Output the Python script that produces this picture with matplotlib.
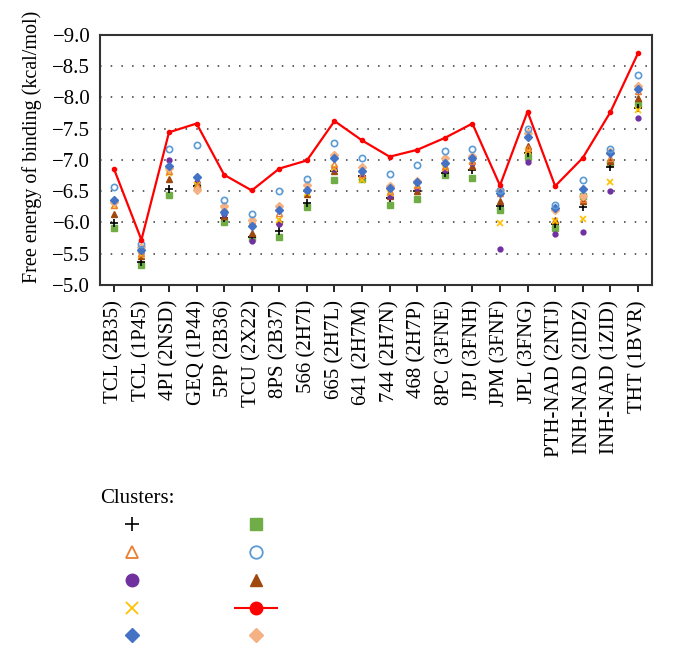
import matplotlib
matplotlib.use('Agg')
import matplotlib.pyplot as plt
from matplotlib.lines import Line2D

plt.rcParams['font.family'] = ['Liberation Serif', 'DejaVu Serif']

# Categories (ligands / PDB codes)
categorias = ['TCL (2B35)', 'TCL (1P45)', '4PI (2NSD)', 'GEQ (1P44)', '5PP (2B36)',
              'TCU (2X22)', '8PS (2B37)', '566 (2H7I)', '665 (2H7L)', '641 (2H7M)',
              '744 (2H7N)', '468 (2H7P)', '8PC (3FNE)', 'JPJ (3FNH)', 'JPM (3FNF)',
              'JPL (3FNG)', 'PTH-NAD (2NTJ)', 'INH-NAD (2IDZ)', 'INH-NAD (1ZID)', 'THT (1BVR)']

# Free energy of binding (kcal/mol) per cluster
plus_negro = [-5.99, -5.37, -6.53, -6.58, -6.07, -5.77, -5.86, -6.31, -6.82, -6.74,
              -6.39, -6.50, -6.79, -6.83, -6.26, -7.11, -5.98, -6.24, -6.88, -7.83]
triangulo_abierto = [-6.28, -5.51, -6.82, -6.60, -6.23, -6.02, -6.15, -6.55, -6.94, -6.78,
                     -6.50, -6.60, -6.90, -6.98, -6.47, -7.19, -6.23, -6.37, -7.03, -8.10]
circulo_morado = [-6.34, -5.53, -6.99, -6.64, -6.14, -5.71, -5.98, -6.50, -6.86, -6.74,
                  -6.42, -6.55, -6.84, -6.95, -5.57, -6.96, -5.82, -5.84, -6.50, -7.67]
x_amarillo = [-6.26, -5.48, -6.79, -6.59, -6.20, -5.98, -6.04, -6.47, -6.87, -6.68,
              -6.47, -6.58, -6.87, -6.98, -5.99, -7.14, -6.02, -6.05, -6.65, -7.79]
diamante_azul = [-6.36, -5.56, -6.90, -6.73, -6.17, -5.94, -6.20, -6.52, -7.03, -6.82,
                 -6.55, -6.65, -6.95, -7.03, -6.47, -7.37, -6.23, -6.53, -7.11, -8.13]
cuadro_verde = [-5.91, -5.32, -6.44, -6.56, -6.00, -5.75, -5.77, -6.25, -6.68, -6.70,
                -6.27, -6.38, -6.75, -6.71, -6.20, -7.05, -5.91, -6.42, -6.95, -7.90]
circulo_abierto = [-6.56, -5.66, -7.17, -7.24, -6.35, -6.13, -6.50, -6.70, -7.27, -7.03,
                   -6.77, -6.91, -7.14, -7.18, -6.51, -7.50, -6.28, -6.67, -7.18, -8.36]
triangulo_cafe = [-6.14, -5.465, -6.70, -6.62, -6.10, -5.83, -6.02, -6.46, -6.82, -6.76,
                  -6.42, -6.50, -6.87, -6.90, -6.34, -7.22, -6.04, -6.34, -6.98, -7.99]
linea_roja = [-6.86, -5.72, -7.44, -7.58, -6.76, -6.51, -6.86, -6.99, -7.62, -7.31,
              -7.05, -7.16, -7.35, -7.58, -6.59, -7.77, -6.58, -7.03, -7.76, -8.70]
diamante_claro = [-6.33, -5.61, -6.87, -6.51, -6.26, -6.04, -6.26, -6.59, -7.07, -6.88,
                  -6.58, -6.66, -7.03, -7.06, -6.52, -7.43, -6.20, -6.42, -7.12, -8.18]

x = list(range(len(categorias)))

fig = plt.figure(figsize=(6.76, 6.55), dpi=100)
ax = fig.add_axes([0.148, 0.565, 0.816, 0.382])

# Grid (dotted horizontal lines)
for v in [-5.5, -6.0, -6.5, -7.0, -7.5, -8.0, -8.5]:
    ax.axhline(v, color='#333333', linestyle=(0, (1, 6)), linewidth=1.1, zorder=0)

ms = 4.5
ax.plot(x, cuadro_verde, 's', color='#70ad47', ms=ms, linestyle='none')
ax.plot(x, plus_negro, '+', color='black', ms=ms + 1, mew=1.2, linestyle='none')
ax.plot(x, triangulo_cafe, '^', color='#9e480e', ms=ms + 0.5, linestyle='none')
ax.plot(x, circulo_morado, 'o', color='#7030a0', ms=ms - 1, linestyle='none')
ax.plot(x, x_amarillo, 'x', color='#ffc000', ms=ms, mew=1.2, linestyle='none')
ax.plot(x, triangulo_abierto, '^', mfc='none', mec='#ed7d31', ms=ms, mew=1, linestyle='none')
ax.plot(x, diamante_claro, 'D', color='#f4b183', ms=ms - 0.5, linestyle='none')
ax.plot(x, diamante_azul, 'D', color='#4472c4', ms=ms - 0.5, linestyle='none')
ax.plot(x, circulo_abierto, 'o', mfc='none', mec='#5b9bd5', ms=ms, mew=1.2, linestyle='none')
ax.plot(x, linea_roja, '-o', color='#ff0000', ms=3, lw=1.6)

ax.set_xlim(-0.5, len(categorias) - 0.5)
ax.set_ylim(-5.0, -9.0)
ax.set_yticks([-5.0, -5.5, -6.0, -6.5, -7.0, -7.5, -8.0, -8.5, -9.0])
ax.set_yticklabels(['\u22125.0', '\u22125.5', '\u22126.0', '\u22126.5', '\u22127.0',
                    '\u22127.5', '\u22128.0', '\u22128.5', '\u22129.0'])
ax.set_xticks(x)
ax.set_xticklabels(categorias, rotation=90, fontsize=15)
ax.tick_params(axis='y', length=0, labelsize=15, pad=7)
ax.tick_params(axis='x', length=5, width=1.2, direction='out', pad=6)
for s in ax.spines.values():
    s.set_linewidth(1.5)
    s.set_color('#333333')
ax.set_ylabel('Free energy of binding (kcal/mol)', fontsize=14.5)
ax.yaxis.set_label_coords(-0.105, 0.552)

# Legend without labels
handles = [
    Line2D([], [], marker='+', color='black', ms=10, mew=1.2, linestyle='none'),
    Line2D([], [], marker='^', mfc='none', mec='#ed7d31', ms=9, mew=1.3, linestyle='none'),
    Line2D([], [], marker='o', color='#7030a0', ms=9, linestyle='none'),
    Line2D([], [], marker='x', color='#ffc000', ms=9, mew=1.3, linestyle='none'),
    Line2D([], [], marker='D', color='#4472c4', ms=7, linestyle='none'),
    Line2D([], [], marker='s', color='#70ad47', ms=9, linestyle='none'),
    Line2D([], [], marker='o', mfc='none', mec='#5b9bd5', ms=9, mew=1.3, linestyle='none'),
    Line2D([], [], marker='^', color='#9e480e', ms=9, linestyle='none'),
    Line2D([], [], marker='o', color='#ff0000', ms=9, lw=1.5),
    Line2D([], [], marker='D', color='#f4b183', ms=7, linestyle='none'),
]
leg = fig.legend(handles, [''] * 10, ncol=2, loc='upper left',
                 bbox_to_anchor=(0.146, 0.2264), frameon=False, handlelength=3,
                 columnspacing=5.93, labelspacing=1.06, handletextpad=0)
fig.text(0.148, 0.232, 'Clusters:', fontsize=15, va='baseline')

fig.savefig('out.png', dpi=100)
